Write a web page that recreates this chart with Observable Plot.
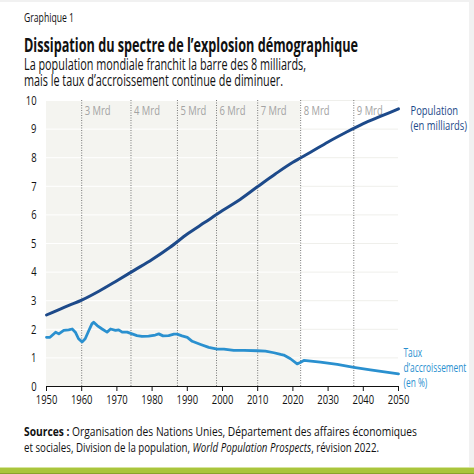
<!DOCTYPE html>
<html>
<head>
<meta charset="utf-8">
<script src="https://cdn.jsdelivr.net/npm/d3@7"></script>
<script src="https://cdn.jsdelivr.net/npm/@observablehq/plot@0.6"></script>
<style>
  html, body { margin: 0; padding: 0; background: #fff; }
  body { width: 474px; height: 474px; position: relative; overflow: hidden;
         font-family: "Open Sans", "Noto Sans", sans-serif; color: #111; }
  .abs { position: absolute; white-space: nowrap; }
  .fit { display: inline-block; transform-origin: 0 50%; white-space: nowrap; }
  #kicker { left: 24px; top: 9px; font-size: 13px; line-height: 16px; }
  #title { left: 24px; top: 34px; font-size: 19px; line-height: 22px; font-weight: bold; }
  #subtitle { left: 24px; top: 57px; font-size: 15.5px; line-height: 15.5px; }
  #chart { left: 0; top: 90px; }
  #source { left: 24px; top: 424px; font-size: 12.5px; line-height: 15.5px; }
  #bar { left: 0; top: 467px; width: 474px; height: 7px; background: linear-gradient(#d6e59e 0, #d6e59e 1px, #aac53c 1px, #aac53c 6px, #8aa22c 6px); }
  #edgeR { left: 469px; top: 0; width: 5px; height: 467px; background: #f1f1f1; }
  #edgeT { left: 0; top: 0; width: 474px; height: 2px; background: #f1f1f1; }
</style>
</head>
<body>
<div id="edgeT" class="abs"></div>
<div id="edgeR" class="abs"></div>
<div id="kicker" class="abs"><span class="fit" data-w="50">Graphique 1</span></div>
<div id="title" class="abs"><span class="fit" data-w="334">Dissipation du spectre de l’explosion démographique</span></div>
<div id="subtitle" class="abs"><span class="fit" id="sub1" data-w="282">La population mondiale franchit la barre des 8 milliards,</span><br><span class="fit" data-w="259">mais le taux d’accroissement continue de diminuer.</span></div>
<div id="chart" class="abs"></div>
<div id="source" class="abs"><span class="fit" data-w="393"><b>Sources :</b> Organisation des Nations Unies, Département des affaires économiques</span><br><span class="fit" data-w="355">et sociales, Division de la population, <i>World Population Prospects</i>, révision 2022.</span></div>
<div id="bar" class="abs"></div>
<script>
// Population mondiale (milliards)
const popYears = [1950,1955,1960,1965,1970,1975,1980,1985,1990,1995,2000,2005,2010,2015,2020,2022,2025,2030,2035,2040,2045,2050];
const popValues = [2.50,2.77,3.02,3.34,3.70,4.07,4.44,4.86,5.33,5.74,6.15,6.54,6.99,7.43,7.84,7.98,8.19,8.55,8.88,9.19,9.45,9.71];

// Taux d'accroissement (%)
const rateYears = [1950,1951,1952.6,1953.5,1954.9,1956.3,1957.3,1958.2,1959.1,1960.1,1961,1962,1962.9,1963.4,1964.4,1965.8,1967.2,1968.2,1969.6,1970.5,1971.5,1972.9,1974.3,1975.7,1977.1,1979,1980.9,1981.9,1983.1,1984.7,1986.2,1987.1,1988.5,1990,1991.4,1993.8,1996.1,1998.5,2000.4,2003.2,2006.1,2009.9,2012.2,2014.6,2016.5,2017.4,2019.3,2021.2,2022.2,2023.1,2027.8,2032.6,2037.3,2042,2050];
const rateValues = [1.72,1.72,1.90,1.84,1.96,1.98,2.01,1.90,1.67,1.56,1.67,1.95,2.19,2.25,2.13,2.01,1.90,2.01,1.96,1.98,1.90,1.90,1.84,1.78,1.75,1.76,1.80,1.84,1.77,1.78,1.83,1.83,1.77,1.72,1.58,1.47,1.37,1.31,1.31,1.26,1.26,1.25,1.24,1.18,1.12,1.10,0.97,0.79,0.85,0.91,0.85,0.77,0.67,0.58,0.44];

// Franchissements de milliards
const milestoneYears = [1960,1974,1987.2,1998.3,2010,2022.2,2037.3];
const milestoneLabels = ["3 Mrd","4 Mrd","5 Mrd","6 Mrd","7 Mrd","8 Mrd","9 Mrd"];

const xTicks = [1950,1960,1970,1980,1990,2000,2010,2020,2030,2040,2050];
const yTicks = [0,1,2,3,4,5,6,7,8,9,10];

const seriesLabels = ["Population\n(en milliards)", "Taux\nd’accroissement\n(en %)"];

const pastEnd = 2022.2;
const popColor = "#1d4a8a";
const rateColor = "#2a90cf";

const pop = popYears.map((y,i) => ({year: y, v: popValues[i]}));
const rate = rateYears.map((y,i) => ({year: y, v: rateValues[i]}));
const milestones = milestoneYears.map((y,i) => ({year: y, label: milestoneLabels[i]}));

// condense HTML texts to the reference widths
let condense = 0.74;
document.querySelectorAll(".fit").forEach(el => {
  const w = el.getBoundingClientRect().width;
  const s = (+el.dataset.w) / w;
  if (el.id === "sub1") condense = s;
  el.style.transform = `scaleX(${s})`;
});

const font = '"Open Sans", "Noto Sans", sans-serif';

const chart = Plot.plot({
  width: 474,
  height: 326,
  marginLeft: 46,
  marginRight: 76,
  marginTop: 10,
  marginBottom: 30,
  style: {fontFamily: font, fontSize: "13.5px", color: "#111", background: "transparent", overflow: "visible"},
  x: {domain: [1950, 2050], ticks: xTicks, tickFormat: d => String(d), label: null, tickSize: 5, tickPadding: 3},
  y: {domain: [0, 10], ticks: yTicks, label: null, tickSize: 0, tickPadding: 10},
  marks: [
    Plot.rect([{x1: 1950, x2: pastEnd, y1: 0, y2: 10}], {x1: "x1", x2: "x2", y1: "y1", y2: "y2", fill: "#f4f4f0"}),
    Plot.ruleY(yTicks.slice(1), {x1: 1950, x2: pastEnd, stroke: "#ffffff", strokeWidth: 1}),
    Plot.ruleY(yTicks.slice(1), {x1: pastEnd, x2: 2050, stroke: "#efefeb", strokeWidth: 1}),
    Plot.ruleX(milestones, {x: "year", y1: 0, y2: 10, stroke: "#777", strokeWidth: 1, strokeDasharray: "1,1.5"}),
    Plot.text(milestones, {x: "year", y: 10, text: "label", textAnchor: "start", dx: 3, dy: 10, fill: "#a3a3a3", fontSize: 13.5}),
    Plot.ruleY([0], {stroke: "#111", strokeWidth: 1}),
    Plot.line(pop, {x: "year", y: "v", stroke: popColor, strokeWidth: 3, curve: "monotone-x"}),
    Plot.line(rate, {x: "year", y: "v", stroke: rateColor, strokeWidth: 2.8, curve: "linear"}),
    Plot.text([{year: 2050, v: popValues[popValues.length - 1]}], {x: "year", y: "v", text: () => seriesLabels[0], textAnchor: "start", lineAnchor: "top", dx: 12, dy: -4, fill: popColor, fontSize: 13.5, lineHeight: 1.11}),
    Plot.text([{year: 2050, v: rateValues[rateValues.length - 1]}], {x: "year", y: "v", text: () => seriesLabels[1], textAnchor: "start", lineAnchor: "top", dx: 5, dy: -28, fill: rateColor, fontSize: 13.5, lineHeight: 1.11})
  ]
});
document.getElementById("chart").appendChild(chart);

// condense the chart's texts around their anchor points
const svgNS = "http://www.w3.org/2000/svg";
Array.from(chart.querySelectorAll("text")).forEach(t => {
  const parent = t.parentNode;
  const r = t.getBoundingClientRect();
  const anchor = getComputedStyle(t).textAnchor;
  const cx = anchor === "middle" ? r.left + r.width / 2 : anchor === "end" ? r.right : r.left;
  const pt = chart.createSVGPoint();
  pt.x = cx; pt.y = r.top;
  const local = pt.matrixTransform(parent.getScreenCTM().inverse());
  let s = condense;
  if (t.textContent.includes("accroissement")) {
    // fit the widest line of this label into the space at the right
    s = Math.min(condense, 63 / (r.width / condense) * condense / condense);
    s = Math.min(condense, 63 / r.width);
  }
  const g = document.createElementNS(svgNS, "g");
  g.setAttribute("transform", `translate(${local.x},0) scale(${s},1) translate(${-local.x},0)`);
  parent.insertBefore(g, t);
  g.appendChild(t);
});
</script>
</body>
</html>
